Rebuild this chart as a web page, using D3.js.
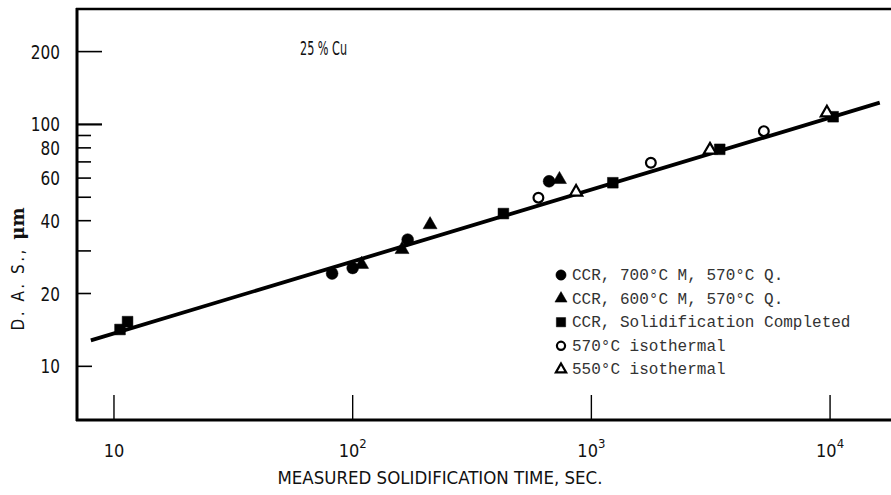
<!DOCTYPE html>
<html>
<head>
<meta charset="utf-8">
<script src="https://cdn.jsdelivr.net/npm/d3@7"></script>
<style>
  body { margin: 0; background: #fff; }
  svg { display: block; }
</style>
</head>
<body>
<svg id="chart" width="891" height="495"></svg>
<script>
// data (time in sec, D.A.S. in micrometres)
const ccr700X = [82, 100, 170, 665];
const ccr700Y = [24.2, 25.5, 33.4, 58.2];
const ccr600X = [109, 161, 211, 735];
const ccr600Y = [26.4, 30.4, 38.5, 59.2];
const ccrSolidX = [10.6, 11.4, 428, 1230, 3450, 10300];
const ccrSolidY = [14.2, 15.3, 42.8, 57.4, 78.9, 107.6];
const iso570X = [600, 1775, 5280];
const iso570Y = [49.8, 69.4, 93.8];
const iso550X = [863, 3140, 9700];
const iso550Y = [52.5, 78.4, 111.7];
// fitted line, end points
const fitX = [8, 16150];
const fitY = [12.8, 123];

const xTicks = [10, 100, 1000, 10000];
const xTickLabels = [["10", ""], ["10", "2"], ["10", "3"], ["10", "4"]];
const yTicks = [10, 20, 30, 40, 50, 60, 70, 80, 90, 100, 200];
const yTickLabels = [200, 100, 80, 60, 40, 20, 10];
const legendNames = [
  "CCR, 700°C M, 570°C Q.",
  "CCR, 600°C M, 570°C Q.",
  "CCR, Solidification Completed",
  "570°C isothermal",
  "550°C isothermal"
];

const svg = d3.select("#chart");
const narrow = "'DejaVu Sans Condensed', 'Liberation Sans Narrow', 'Roboto', sans-serif";
const mono = "'Liberation Mono', 'DejaVu Sans Mono', monospace";

let x = d3.scaleLog().domain([7, 18000]).range([77, 891]);
let y = d3.scaleLog().domain([6, 300]).range([420, 9]);

// frame: left, top, bottom
let frame = svg.append("g").attr("stroke", "#000").attr("fill", "none");
frame.append("line").attr("x1", 77).attr("x2", 77).attr("y1", 8).attr("y2", 421).attr("stroke-width", 3);
frame.append("line").attr("x1", 76).attr("x2", 891).attr("y1", 9).attr("y2", 9).attr("stroke-width", 2.5);
frame.append("line").attr("x1", 76).attr("x2", 891).attr("y1", 420).attr("y2", 420).attr("stroke-width", 3);

// y ticks, pointing into the plot
svg.append("g").selectAll("line").data(yTicks).join("line")
  .attr("x1", 77)
  .attr("x2", d => d >= 100 ? 102 : (d == 10 ? 92 : 91))
  .attr("y1", d => y(d)).attr("y2", d => y(d))
  .attr("stroke", "#000")
  .attr("stroke-width", d => d == 100 ? 2.2 : 1.6);

svg.append("g").selectAll("text").data(yTickLabels).join("text")
  .attr("transform", d => "translate(60," + (y(d) + 7) + ") scale(0.85,1)")
  .attr("text-anchor", "end")
  .attr("font-family", narrow)
  .attr("font-size", 20)
  .attr("fill", "#111")
  .text(d => d);

// x ticks
svg.append("g").selectAll("line").data(xTicks).join("line")
  .attr("x1", d => x(d)).attr("x2", d => x(d))
  .attr("y1", 420).attr("y2", 395)
  .attr("stroke", "#000")
  .attr("stroke-width", 1.4);

let xl = svg.append("g").selectAll("text").data(xTicks).join("text")
  .attr("x", d => x(d))
  .attr("y", 457)
  .attr("text-anchor", "middle")
  .attr("font-family", narrow)
  .attr("font-size", 18)
  .attr("fill", "#111");
xl.append("tspan").text((d, i) => xTickLabels[i][0]);
xl.append("tspan")
  .attr("dy", -9)
  .attr("font-size", 13)
  .text((d, i) => xTickLabels[i][1]);

// axis titles
svg.append("text")
  .attr("x", 440)
  .attr("y", 484)
  .attr("text-anchor", "middle")
  .attr("font-family", narrow)
  .attr("font-size", 18)
  .attr("textLength", 325)
  .attr("lengthAdjust", "spacingAndGlyphs")
  .attr("fill", "#111")
  .text("MEASURED SOLIDIFICATION TIME, SEC.");

let yt = svg.append("text")
  .attr("transform", "translate(24,269) rotate(-90)")
  .attr("text-anchor", "middle")
  .attr("font-family", narrow)
  .attr("font-size", 17)
  .attr("fill", "#111");
yt.append("tspan").attr("letter-spacing", 2.5).text("D. A. S., ");
yt.append("tspan")
  .attr("font-family", "'DejaVu Serif', serif")
  .attr("font-weight", "bold")
  .attr("font-size", 18)
  .text("μm");

svg.append("text")
  .attr("x", 300)
  .attr("y", 55)
  .attr("font-family", narrow)
  .attr("font-size", 19)
  .attr("textLength", 47)
  .attr("lengthAdjust", "spacingAndGlyphs")
  .attr("fill", "#111")
  .text("25 % Cu");

// fitted line
svg.append("path")
  .datum(fitX.map((d, i) => [d, fitY[i]]))
  .attr("d", d3.line().x(d => x(d[0])).y(d => y(d[1])))
  .attr("stroke", "#000")
  .attr("stroke-width", 3.8)
  .attr("fill", "none");

// markers
const series = [
  {xs: ccr700X, ys: ccr700Y, type: d3.symbolCircle, size: 110, fill: true},
  {xs: ccr600X, ys: ccr600Y, type: d3.symbolTriangle, size: 85, fill: true},
  {xs: ccrSolidX, ys: ccrSolidY, type: d3.symbolSquare, size: 115, fill: true},
  {xs: iso570X, ys: iso570Y, type: d3.symbolCircle, size: 75, fill: false},
  {xs: iso550X, ys: iso550Y, type: d3.symbolTriangle, size: 65, fill: false}
];

function styleMark(sel, s) {
  sel.attr("fill", s.fill ? "#000" : "#fff")
    .attr("stroke", "#000")
    .attr("stroke-width", s.fill ? 0.5 : 2.2);
}

series.forEach(s => {
  svg.append("g").selectAll("path").data(s.xs).join("path")
    .attr("d", d3.symbol().type(s.type).size(s.size))
    .attr("transform", (d, i) => "translate(" + x(d) + "," + y(s.ys[i]) + ")")
    .call(styleMark, s);
});

// legend
let legend = svg.append("g").attr("transform", "translate(561,275)");
series.forEach((s, i) => {
  let row = legend.append("g").attr("transform", "translate(0," + (i * 23.6) + ")");
  row.append("path")
    .attr("d", d3.symbol().type(s.type).size(s.fill ? s.size * 0.75 : s.size * 0.7))
    .call(styleMark, s);
  row.append("text")
    .attr("x", 11)
    .attr("y", 5)
    .attr("font-family", mono)
    .attr("font-size", 16)
    .attr("fill", "#333")
    .text(legendNames[i]);
});
</script>
</body>
</html>
